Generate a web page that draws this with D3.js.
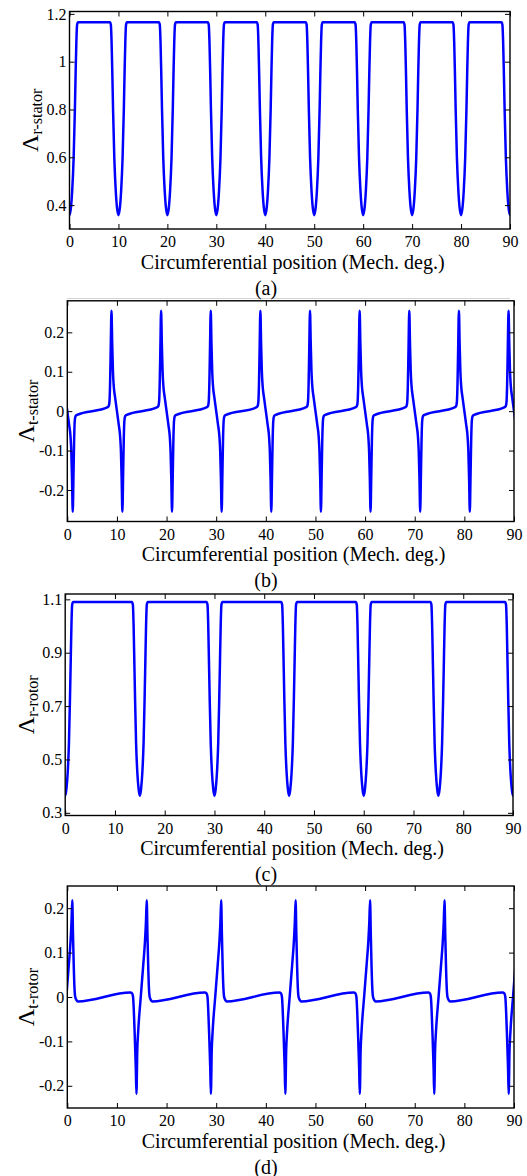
<!DOCTYPE html>
<html>
<head>
<meta charset="utf-8">
<script src="https://cdn.jsdelivr.net/npm/d3@7"></script>
<style>
  body { margin: 0; background: #fff; }
  svg { display: block; font-family: 'Liberation Serif', 'Times New Roman', serif; }
</style>
</head>
<body>
<div id="chart"></div>
<script>
const xTicks = [0, 10, 20, 30, 40, 50, 60, 70, 80, 90]
const xTitle = 'Circumferential position (Mech. deg.)'

// (a) radial, stator slots every 10 deg : shape of one slot dip
const aSlots = [0, 10, 20, 30, 40, 50, 60, 70, 80, 90]
const aOffset = [-1.75, -1.55, -1.4, -1.25, -1.1, -0.85, -0.55, -0.3, 0, 0.3, 0.55, 0.85, 1.1, 1.25, 1.4, 1.55, 1.75]
const aValue = [1.165, 1.155, 1.08, 0.95, 0.8, 0.6, 0.46, 0.39, 0.358, 0.39, 0.46, 0.6, 0.8, 0.95, 1.08, 1.155, 1.165]
const aTicks = [0.4, 0.6, 0.8, 1, 1.2]

// (b) tangential, stator
const bSlots = [0, 10, 20, 30, 40, 50, 60, 70, 80, 90]
const bOffset = [-1.85, -1.65, -1.5, -1.38, -1.25, -1.1, -0.95, -0.8, -0.65, -0.35, 0, 0.35, 0.65, 0.8, 0.95, 1.1, 1.25, 1.38, 1.5, 1.65, 1.85]
const bValue = [0.01, 0.013, 0.025, 0.07, 0.16, 0.255, 0.17, 0.1, 0.065, 0.033, 0, -0.033, -0.065, -0.1, -0.17, -0.255, -0.16, -0.07, -0.025, -0.013, -0.01]
const bTicks = [-0.2, -0.1, 0, 0.1, 0.2]

// (c) radial, rotor slots every 15 deg
const cSlots = [0, 15, 30, 45, 60, 75, 90]
const cOffset = [-1.6, -1.4, -1.25, -1.1, -0.95, -0.75, -0.5, -0.25, 0, 0.25, 0.5, 0.75, 0.95, 1.1, 1.25, 1.4, 1.6]
const cValue = [1.09, 1.08, 1.0, 0.86, 0.72, 0.56, 0.45, 0.39, 0.364, 0.39, 0.45, 0.56, 0.72, 0.86, 1.0, 1.08, 1.09]
const cTicks = [0.3, 0.5, 0.7, 0.9, 1.1]

// (d) tangential, rotor
const dSlots = [0, 15, 30, 45, 60, 75, 90]
const dOffset = [-2.3, -1.95, -1.75, -1.6, -1.4, -1.2, -1.07, -0.9, -0.73, -0.2, 0.3, 0.66, 0.85, 1.0, 1.15, 1.3, 1.45, 1.6, 1.9, 2.1]
const dValue = [0.01, 0.008, 0.0, -0.03, -0.09, -0.16, -0.218, -0.12, -0.08, 0.0, 0.072, 0.127, 0.17, 0.218, 0.14, 0.07, 0.02, 0.0, -0.008, -0.01]
const dTicks = [-0.2, -0.1, 0, 0.1, 0.2]

const width = 527
const height = 1176
const lineColor = '#0000ff'

const panels = [
  {caption: '(a)', sub: 'r-stator', slots: aSlots, offsets: aOffset, values: aValue, ticks: aTicks,
    yDomain: [0.3, 1.21], left: 69.5, right: 510, top: 11.5, bottom: 229, labelX: 38},
  {caption: '(b)', sub: 't-stator', slots: bSlots, offsets: bOffset, values: bValue, ticks: bTicks,
    yDomain: [-0.28, 0.28], left: 67.3, right: 514, top: 300.8, bottom: 521.5, labelX: 34},
  {caption: '(c)', sub: 'r-rotor', slots: cSlots, offsets: cOffset, values: cValue, ticks: cTicks,
    yDomain: [0.29, 1.12], left: 65.2, right: 513, top: 594, bottom: 815.5, labelX: 34},
  {caption: '(d)', sub: 't-rotor', slots: dSlots, offsets: dOffset, values: dValue, ticks: dTicks,
    yDomain: [-0.25, 0.25], left: 67.3, right: 514, top: 886, bottom: 1108, labelX: 34},
]

const svg = d3.select('#chart')
  .append('svg')
    .attr('width', width)
    .attr('height', height)

// faint rule under the first caption
svg.append('line')
  .attr('x1', 67).attr('x2', 510)
  .attr('y1', 298.5).attr('y2', 298.5)
  .attr('stroke', '#d4d4d4')
  .attr('stroke-width', 1)

function series(p) {
  return p.slots
    .flatMap(s => p.offsets.map((o, i) => ({x: s + o, y: p.values[i]})))
    .sort((u, v) => u.x - v.x)
}

panels.forEach((p, k) => {
  const x = d3.scaleLinear().domain([0, 90]).range([p.left, p.right])
  const y = d3.scaleLinear().domain(p.yDomain).range([p.bottom, p.top])
  const g = svg.append('g').attr('class', 'panel')

  const clipId = 'clip' + k
  svg.append('clipPath').attr('id', clipId)
    .append('rect')
      .attr('x', p.left).attr('y', p.top)
      .attr('width', p.right - p.left).attr('height', p.bottom - p.top)

  g.append('path')
    .datum(series(p))
    .attr('clip-path', `url(#${clipId})`)
    .attr('fill', 'none')
    .attr('stroke', lineColor)
    .attr('stroke-width', 2.5)
    .attr('stroke-linejoin', 'round')
    .attr('d', d3.line().x(d => x(d.x)).y(d => y(d.y)).curve(d3.curveMonotoneX))

  const fmt = d => String(d)

  const xb = g.append('g')
    .attr('transform', `translate(0,${p.bottom})`)
    .call(d3.axisBottom(x).tickValues(xTicks).tickFormat(fmt).tickSizeInner(-5).tickSizeOuter(0).tickPadding(7))
  const xt = g.append('g')
    .attr('transform', `translate(0,${p.top})`)
    .call(d3.axisTop(x).tickValues(xTicks).tickFormat('').tickSizeInner(-5).tickSizeOuter(0))
  const yl = g.append('g')
    .attr('transform', `translate(${p.left},0)`)
    .call(d3.axisLeft(y).tickValues(p.ticks).tickFormat(fmt).tickSizeInner(-5).tickSizeOuter(0).tickPadding(3))
  const yr = g.append('g')
    .attr('transform', `translate(${p.right},0)`)
    .call(d3.axisRight(y).tickValues(p.ticks).tickFormat('').tickSizeInner(-5).tickSizeOuter(0))

  ;[xb, xt, yl, yr].forEach(a => {
    a.select('.domain').remove()
    a.selectAll('.tick line').attr('stroke', '#000').attr('stroke-width', 1)
    a.selectAll('.tick text')
      .attr('fill', '#000')
      .style('font-family', "'Liberation Serif', 'Times New Roman', serif")
      .style('font-size', '16px')
  })

  g.append('rect')
    .attr('x', p.left).attr('y', p.top)
    .attr('width', p.right - p.left).attr('height', p.bottom - p.top)
    .attr('fill', 'none')
    .attr('stroke', '#000')
    .attr('stroke-width', 1.4)

  g.append('text')
    .attr('x', (p.left + p.right) / 2 + 3)
    .attr('y', p.bottom + 39.5)
    .attr('text-anchor', 'middle')
    .style('font-size', '20px')
    .text(xTitle)

  g.append('text')
    .attr('x', 266)
    .attr('y', p.bottom + 65.5)
    .attr('text-anchor', 'middle')
    .style('font-size', '20px')
    .text(p.caption)

  const cy = (p.top + p.bottom) / 2
  const lab = g.append('text')
    .attr('transform', `translate(${p.labelX},${cy}) rotate(-90)`)
    .attr('text-anchor', 'middle')
  lab.append('tspan').style('font-size', '24px').text('Λ')
  lab.append('tspan').style('font-size', '16px').attr('dy', 4).text(p.sub)
})
</script>
</body>
</html>
